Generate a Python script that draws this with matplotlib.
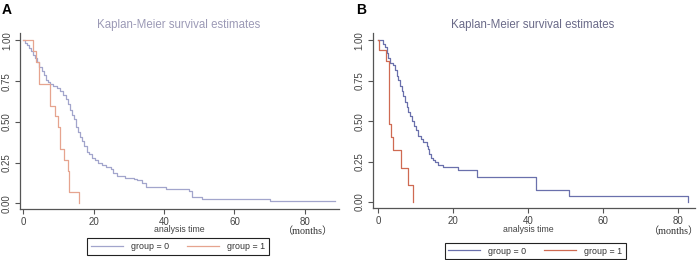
import matplotlib
matplotlib.use("Agg")
import matplotlib.pyplot as plt
from matplotlib.lines import Line2D

plt.rcParams["font.family"] = ["Liberation Sans", "DejaVu Sans"]

# --- data (Kaplan-Meier step curves) ---
a0_time = [0, 0.5, 1.0, 1.5, 2.2, 2.8, 3.3, 3.9, 4.5, 5.2, 5.8, 6.4, 7.0, 7.6, 8.5, 9.5, 10.5,
           11.4, 12.1, 12.8, 13.3, 13.9, 14.5, 15.0, 15.5, 16.0, 16.6, 17.2, 18.0, 18.8, 19.5,
           20.4, 21.3, 22.3, 23.5, 25.0, 25.6, 26.5, 28.9, 31.5, 32.2, 33.6, 34.9, 40.5, 47.2,
           47.8, 50.7, 70.0, 88.5]
a0_surv = [1.0, 0.985, 0.97, 0.955, 0.935, 0.91, 0.89, 0.865, 0.835, 0.81, 0.785, 0.76, 0.745,
           0.735, 0.72, 0.71, 0.69, 0.665, 0.64, 0.61, 0.575, 0.545, 0.515, 0.47, 0.44, 0.41,
           0.38, 0.35, 0.315, 0.30, 0.28, 0.265, 0.25, 0.235, 0.225, 0.21, 0.185, 0.17, 0.155,
           0.15, 0.14, 0.127, 0.10, 0.09, 0.075, 0.04, 0.025, 0.012, 0.012]
a1_time = [0, 2.8, 3.6, 4.5, 7.6, 9.0, 10.0, 10.4, 11.6, 12.8, 13.1, 15.9]
a1_surv = [1.0, 0.933, 0.867, 0.733, 0.60, 0.533, 0.467, 0.333, 0.267, 0.20, 0.067, 0.0]

b0_time = [0, 1.3, 1.8, 2.2, 2.7, 3.1, 4.0, 4.5, 4.9, 5.3, 5.8, 6.2, 6.7, 7.1, 7.6, 8.0, 8.5,
           9.0, 9.5, 10.1, 10.7, 11.3, 12.0, 12.9, 13.3, 13.6, 14.0, 14.5, 15.1, 16.0, 17.3,
           21.3, 26.2, 42.0, 50.9, 82.7]
b0_surv = [1.0, 0.98, 0.96, 0.925, 0.89, 0.86, 0.85, 0.82, 0.78, 0.755, 0.72, 0.69, 0.655,
           0.62, 0.59, 0.56, 0.53, 0.50, 0.47, 0.445, 0.41, 0.39, 0.372, 0.348, 0.325, 0.30,
           0.275, 0.26, 0.246, 0.231, 0.215, 0.198, 0.154, 0.077, 0.04, 0.0]
b1_time = [0, 0.1, 2.0, 2.9, 3.5, 3.8, 6.0, 8.0, 9.2]
b1_surv = [1.0, 0.94, 0.875, 0.48, 0.40, 0.32, 0.21, 0.105, 0.0]

x_ticks = [0, 20, 40, 60, 80]
y_ticks = [0.0, 0.25, 0.5, 0.75, 1.0]
y_labels = ["0.00", "0.25", "0.50", "0.75", "1.00"]
group_labels = ["group = 0", "group = 1"]

W, H = 700, 260
GREY = "#555555"


def fx(px):
    return px / W


def fy(py):
    return 1 - py / H


def panel(rect, xlim, curves, colors, title_color, letter, letter_x, title_x, xtitle_x,
          months_x, legend_c):
    ax = fig.add_axes(rect)
    for (t, s), c in zip(curves, colors):
        ax.step(t, s, where="post", color=c, lw=0.9)
    ax.set_xlim(*xlim)
    ax.set_ylim(-0.037, 1.044)
    ax.set_xticks(x_ticks)
    ax.set_yticks(y_ticks)
    ax.set_yticklabels(y_labels, rotation=90, va="center")
    for side in ("top", "right"):
        ax.spines[side].set_visible(False)
    for side in ("left", "bottom"):
        ax.spines[side].set_color(GREY)
        ax.spines[side].set_linewidth(0.9)
    ax.tick_params(length=3.5, width=0.8, color=GREY, labelcolor="#444444",
                   labelsize=7, pad=2.2)

    fig.text(fx(letter_x), fy(10), letter, fontsize=10, fontweight="bold",
             ha="left", va="center", color="black")
    fig.text(fx(title_x), fy(25), "Kaplan-Meier survival estimates", fontsize=8.3,
             color=title_color, ha="center", va="center")
    fig.text(fx(xtitle_x), fy(230), "analysis time", fontsize=6.3, color="#444444",
             ha="center", va="center")
    fig.text(fx(months_x), fy(231.5), "（months）", fontsize=7.3, color="#333333",
             ha="center", va="center", family=["Liberation Serif", "Noto Sans CJK SC"])

    handles = [Line2D([], [], color=c, lw=0.9) for c in colors]
    leg = ax.legend(handles, group_labels, loc="center", bbox_to_anchor=legend_c,
                    bbox_transform=fig.transFigure, ncol=2, fancybox=False,
                    edgecolor="#222222", framealpha=1, fontsize=6.4, handlelength=3.6,
                    columnspacing=2.0, handletextpad=0.9, borderpad=0.4,
                    borderaxespad=0)
    leg.get_frame().set_linewidth(0.8)
    for txt in leg.get_texts():
        txt.set_color("#333333")
    return ax


fig = plt.figure(figsize=(7, 2.6), dpi=100)

panel([fx(20), fy(209.3), fx(319.3), (209.3 - 33.3) / H], (-0.94, 89.8),
      [(a0_time, a0_surv), (a1_time, a1_surv)], ["#a2a5cc", "#e6a48f"], "#9c9ab6",
      "A", 2, 179, 179, 308, (fx(178), fy(246.5)))
panel([fx(372.7), fy(208), fx(322.3), (208 - 33.3) / H], (-1.5, 84.45),
      [(b0_time, b0_surv), (b1_time, b1_surv)], ["#6a70ac", "#cf6a52"], "#6a6a88",
      "B", 356, 533, 528, 674, (fx(535.5), fy(251)))

fig.savefig("out.png", dpi=100)
